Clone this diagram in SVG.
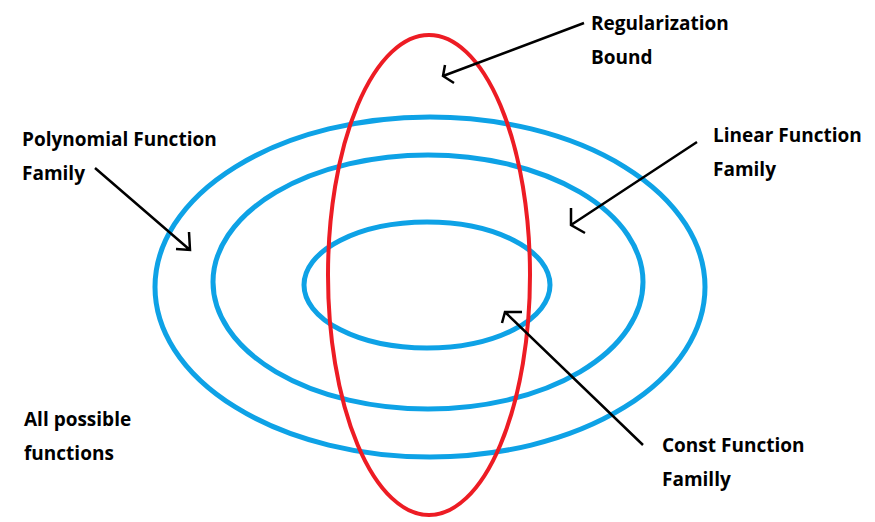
<svg xmlns="http://www.w3.org/2000/svg" width="875" height="522" viewBox="0 0 875 522">
<style>
.blue{fill:none;stroke:#0ea2e6;stroke-width:5}
.red{fill:none;stroke:#ed1c24;stroke-width:4}
.arr{fill:none;stroke:#000;stroke-width:2.5}
text{font-family:"Open Sans","Noto Sans",sans-serif;font-weight:bold;font-size:19px;fill:#000}
</style>
<rect width="875" height="522" fill="#fff"/>
<g id="outer"><ellipse class="blue" cx="430" cy="287" rx="275" ry="170"/></g>
<g id="middle"><ellipse class="blue" cx="428" cy="282" rx="215" ry="127"/></g>
<g id="inner"><ellipse class="blue" cx="427" cy="285" rx="123" ry="63"/></g>
<g id="reg"><ellipse class="red" cx="429" cy="275" rx="101" ry="240"/></g>
<g id="connectors">
<path class="arr" d="M584,23 L443,76 M445,65 L443,76 L454,83"/>
<path class="arr" d="M95,168 L190,250 M189,232 L190,250 L176,249"/>
<path class="arr" d="M697,142 L571,225 M571,208 L571,225 L585,233"/>
<path class="arr" d="M643,445 L505,312 M522,312 L505,312 L502,323"/>
</g>
<g id="label-reg"><text x="591" y="30">Regularization</text><text x="591" y="64">Bound</text></g>
<g id="label-poly"><text x="22" y="146">Polynomial Function</text><text x="22" y="180">Family</text></g>
<g id="label-lin"><text x="713" y="142">Linear Function</text><text x="713" y="176">Family</text></g>
<g id="label-const"><text x="662" y="452">Const Function</text><text x="662" y="486">Familly</text></g>
<g id="label-all"><text x="24" y="426">All possible</text><text x="24" y="460">functions</text></g>
</svg>
